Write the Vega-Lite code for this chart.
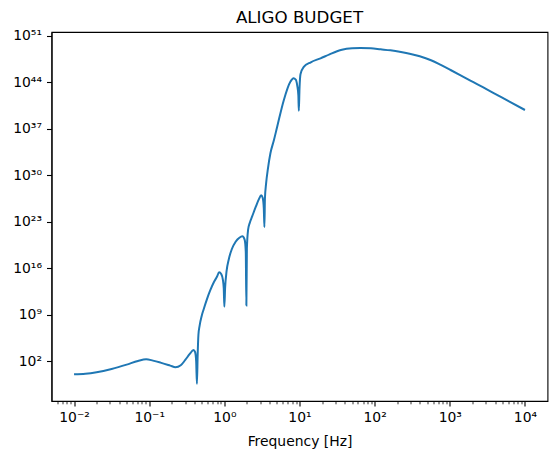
{
  "$schema": "https://vega.github.io/schema/vega-lite/v6.json",
  "autosize": {"type": "none"},
  "padding": {"left": 51.5, "top": 32, "right": 9.5, "bottom": 58},
  "width": 496,
  "height": 369,
  "background": "white",
  "title": {"text": "ALIGO BUDGET", "font": "DejaVu Sans", "fontSize": 16.7, "fontWeight": "normal", "color": "black", "offset": 2, "anchor": "middle"},
  "config": {
    "view": {"stroke": "black", "strokeWidth": 1.1},
    "axis": {"grid": false, "domainColor": "black", "domainWidth": 1.1, "tickColor": "black", "tickWidth": 1.1, "labelColor": "black", "labelFont": "DejaVu Sans", "labelFontSize": 13.9, "titleFont": "DejaVu Sans", "titleFontSize": 13.9, "titleFontWeight": "normal", "titleColor": "black", "labelOverlap": false}
  },
  "data": {"values": [
    {"f": 0.01, "v": 1.096},
    {"f": 0.014125, "v": 1.318},
    {"f": 0.019953, "v": 2.239},
    {"f": 0.031623, "v": 7.079},
    {"f": 0.050119, "v": 31.62},
    {"f": 0.070795, "v": 112.2},
    {"f": 0.091201, "v": 199.5},
    {"f": 0.112202, "v": 125.9},
    {"f": 0.141254, "v": 63.1},
    {"f": 0.190546, "v": 22.39},
    {"f": 0.223872, "v": 12.59},
    {"f": 0.263027, "v": 25.12},
    {"f": 0.301995, "v": 158.5},
    {"f": 0.346737, "v": 1259},
    {"f": 0.389045, "v": 5012},
    {"f": 0.40738, "v": 2512},
    {"f": 0.421697, "v": 100},
    {"f": 0.431519, "v": 0.0398},
    {"f": 0.44157, "v": 1000},
    {"f": 0.451856, "v": 1e6},
    {"f": 0.467735, "v": 2.0e7},
    {"f": 0.501187, "v": 7.94e8},
    {"f": 0.529663, "v": 6.31e9},
    {"f": 0.588844, "v": 2.51e11},
    {"f": 0.650129, "v": 5.01e12},
    {"f": 0.724436, "v": 7.94e13},
    {"f": 0.799834, "v": 5.62e14},
    {"f": 0.851138, "v": 2.51e15},
    {"f": 0.912011, "v": 1.26e15},
    {"f": 0.954993, "v": 2.0e14},
    {"f": 0.981748, "v": 1e13},
    {"f": 1.0, "v": 1.58e10},
    {"f": 1.023293, "v": 1e13},
    {"f": 1.071519, "v": 3.98e15},
    {"f": 1.148154, "v": 2.51e17},
    {"f": 1.258925, "v": 7.94e18},
    {"f": 1.412538, "v": 1e20},
    {"f": 1.584893, "v": 3.98e20},
    {"f": 1.737801, "v": 6.31e20},
    {"f": 1.862087, "v": 2.0e20},
    {"f": 1.927525, "v": 3.16e18},
    {"f": 1.96336, "v": 2.51e10},
    {"f": 1.995262, "v": 1e19},
    {"f": 2.070141, "v": 6.31e21},
    {"f": 2.187762, "v": 7.94e22},
    {"f": 2.344229, "v": 6.31e23},
    {"f": 2.630268, "v": 2.0e25},
    {"f": 2.884032, "v": 2.51e26},
    {"f": 3.090295, "v": 1e27},
    {"f": 3.235937, "v": 3.98e26},
    {"f": 3.349654, "v": 1e25},
    {"f": 3.411929, "v": 1.58e22},
    {"f": 3.467369, "v": 3.16e26},
    {"f": 3.597493, "v": 6.31e28},
    {"f": 3.801894, "v": 1e31},
    {"f": 4.102126, "v": 2.0e33},
    {"f": 4.570882, "v": 2.0e35},
    {"f": 5.046612, "v": 2.0e37},
    {"f": 6.180164, "v": 2.0e41},
    {"f": 7.585776, "v": 1.26e44},
    {"f": 8.317638, "v": 3.98e44},
    {"f": 8.912509, "v": 2.51e44},
    {"f": 9.332543, "v": 3.16e43},
    {"f": 9.660509, "v": 1e42},
    {"f": 9.794899, "v": 5.01e39},
    {"f": 10.0, "v": 1e43},
    {"f": 10.30386, "v": 1.58e45},
    {"f": 11.4025, "v": 2.0e46},
    {"f": 14.12538, "v": 1e47},
    {"f": 19.05461, "v": 3.98e47},
    {"f": 25.11886, "v": 1.58e48},
    {"f": 35.48134, "v": 7.08e48},
    {"f": 50.11872, "v": 1.32e49},
    {"f": 64.56542, "v": 1.41e49},
    {"f": 89.12509, "v": 1.26e49},
    {"f": 120.2264, "v": 8.91e48},
    {"f": 162.2, "v": 6.31e48},
    {"f": 223.8721, "v": 3.55e48},
    {"f": 302.0, "v": 1.78e48},
    {"f": 398.1, "v": 7.94e47},
    {"f": 562.3, "v": 2.0e47},
    {"f": 758.5776, "v": 3.98e46},
    {"f": 1023.3, "v": 6.92e45},
    {"f": 1412.5, "v": 1e45},
    {"f": 1905.5, "v": 1.58e44},
    {"f": 2754.2, "v": 1.78e43},
    {"f": 3890.5, "v": 2.14e42},
    {"f": 6309.573, "v": 1.12e41},
    {"f": 10000, "v": 6.61e39}
  ]},
  "mark": {"type": "line", "color": "#1f77b4", "strokeWidth": 2, "clip": true, "interpolate": "monotone"},
  "encoding": {
    "x": {
      "field": "f", "type": "quantitative",
      "scale": {"type": "log", "domain": [0.0050119, 19952.6], "nice": false, "zero": false},
      "axis": {
        "title": "Frequency [Hz]",
        "titlePadding": 11,
        "values": [0.006, 0.007, 0.008, 0.009, 0.01, 0.02, 0.03, 0.04, 0.05, 0.06, 0.07, 0.08, 0.09, 0.1, 0.2, 0.3, 0.4, 0.5, 0.6, 0.7, 0.8, 0.9, 1, 2, 3, 4, 5, 6, 7, 8, 9, 10, 20, 30, 40, 50, 60, 70, 80, 90, 100, 200, 300, 400, 500, 600, 700, 800, 900, 1000, 2000, 3000, 4000, 5000, 6000, 7000, 8000, 9000, 10000],
        "tickSize": {"condition": {"test": "abs(log(datum.value)/LN10 - round(log(datum.value)/LN10)) < 1e-6", "value": 5}, "value": 2.8},
        "tickWidth": {"condition": {"test": "abs(log(datum.value)/LN10 - round(log(datum.value)/LN10)) < 1e-6", "value": 1.1}, "value": 0.8},
        "labelPadding": 4,
        "labelExpr": "abs(log(datum.value)/LN10 - round(log(datum.value)/LN10)) < 1e-6 ? ('10' + (round(log(datum.value)/LN10) < 0 ? '⁻' : '') + substring('⁰¹²³⁴⁵⁶⁷⁸⁹', abs(round(log(datum.value)/LN10)) % 10, abs(round(log(datum.value)/LN10)) % 10 + 1)) : ''"
      }
    },
    "y": {
      "field": "v", "type": "quantitative",
      "scale": {"type": "log", "domain": [1.047e-4, 3.63e51], "nice": false, "zero": false},
      "axis": {
        "title": null,
        "values": [1e2, 1e9, 1e16, 1e23, 1e30, 1e37, 1e44, 1e51],
        "tickSize": 5,
        "labelPadding": 5,
        "labelExpr": "'10' + (abs(round(log(datum.value)/LN10)) >= 10 ? substring('⁰¹²³⁴⁵⁶⁷⁸⁹', floor(abs(round(log(datum.value)/LN10))/10), floor(abs(round(log(datum.value)/LN10))/10) + 1) : '') + substring('⁰¹²³⁴⁵⁶⁷⁸⁹', abs(round(log(datum.value)/LN10)) % 10, abs(round(log(datum.value)/LN10)) % 10 + 1)"
      }
    }
  }
}
